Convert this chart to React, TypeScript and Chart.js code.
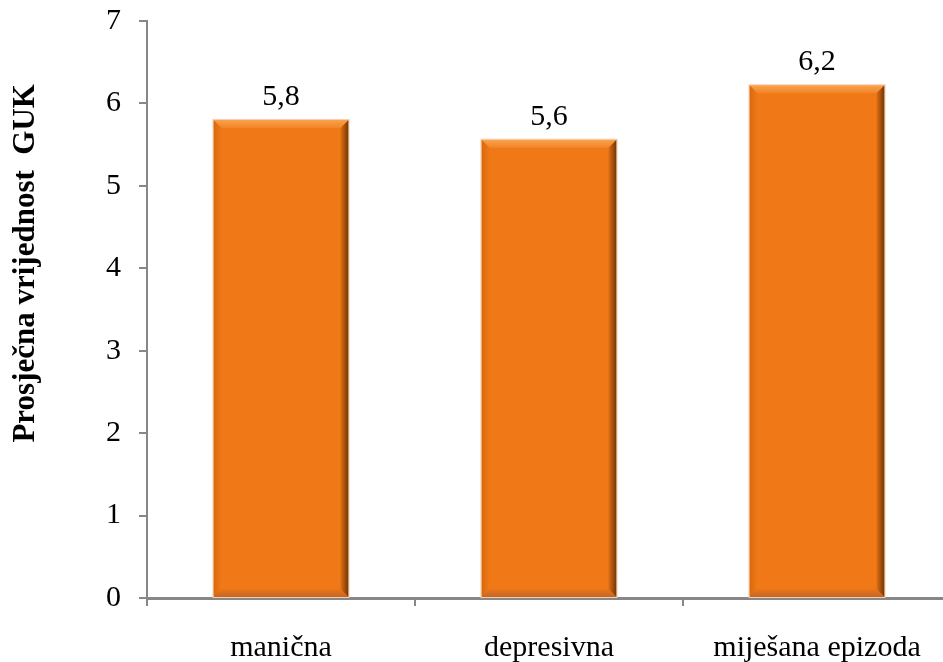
import React, { useEffect, useRef } from "react";
import { Chart, registerables } from "chart.js";

Chart.register(...registerables);

const categories = ["manična", "depresivna", "miješana epizoda"];
const values = [5.8, 5.56, 6.22];
const valueLabels = ["5,8", "5,6", "6,2"];
const yTicks = [0, 1, 2, 3, 4, 5, 6, 7];
const yTitle = "Prosječna vrijednost  GUK";

const FONT = "'Liberation Serif', 'Times New Roman', serif";
const AXIS_GRAY = "#878787";

const bevelPlugin = {
  id: "bevel",
  afterDatasetsDraw(chart: any) {
    const ctx = chart.ctx;
    const meta = chart.getDatasetMeta(0);
    meta.data.forEach((bar: any, i: number) => {
      const { x, y, base, width } = bar.getProps(["x", "y", "base", "width"], true);
      const l = x - width / 2;
      const r = x + width / 2;
      const t = y;
      const b = base;
      const s = 8;
      ctx.save();
      // top
      let g = ctx.createLinearGradient(0, t, 0, t + s);
      g.addColorStop(0, "#F9A24E");
      g.addColorStop(1, "#F28526");
      ctx.fillStyle = g;
      ctx.beginPath();
      ctx.moveTo(l, t); ctx.lineTo(r, t); ctx.lineTo(r - s, t + s); ctx.lineTo(l + s, t + s); ctx.closePath();
      ctx.fill();
      // left
      g = ctx.createLinearGradient(l, 0, l + s, 0);
      g.addColorStop(0, "#D8690F");
      g.addColorStop(1, "#F07816");
      ctx.fillStyle = g;
      ctx.beginPath();
      ctx.moveTo(l, t); ctx.lineTo(l + s, t + s); ctx.lineTo(l + s, b - s); ctx.lineTo(l, b); ctx.closePath();
      ctx.fill();
      // bottom
      g = ctx.createLinearGradient(0, b - s, 0, b);
      g.addColorStop(0, "#EC7618");
      g.addColorStop(1, "#C2662A");
      ctx.fillStyle = g;
      ctx.beginPath();
      ctx.moveTo(l, b); ctx.lineTo(l + s, b - s); ctx.lineTo(r - s, b - s); ctx.lineTo(r, b); ctx.closePath();
      ctx.fill();
      // right
      g = ctx.createLinearGradient(r - s, 0, r, 0);
      g.addColorStop(0, "#E06E12");
      g.addColorStop(1, "#6E3608");
      ctx.fillStyle = g;
      ctx.beginPath();
      ctx.moveTo(r, t); ctx.lineTo(r, b); ctx.lineTo(r - s, b - s); ctx.lineTo(r - s, t + s); ctx.closePath();
      ctx.fill();
      // outline
      ctx.strokeStyle = "#F6CDAA";
      ctx.lineWidth = 1;
      ctx.strokeRect(l - 0.5, t - 0.5, width + 1, b - t + 1);
      // value label
      ctx.fillStyle = "#000";
      ctx.font = `30px ${FONT}`;
      ctx.textAlign = "center";
      ctx.textBaseline = "alphabetic";
      ctx.fillText(valueLabels[i], x, t - 15);
      ctx.restore();
    });
  },
  afterDraw(chart: any) {
    const ctx = chart.ctx;
    const area = chart.chartArea;
    ctx.save();
    ctx.translate(34, area.top + (area.bottom - area.top) * 0.42);
    ctx.rotate(-Math.PI / 2);
    ctx.font = `bold 31px ${FONT}`;
    ctx.fillStyle = "#000";
    ctx.textAlign = "center";
    ctx.textBaseline = "alphabetic";
    ctx.fillText(yTitle, 0, 0);
    ctx.restore();
  },
};

export default function App() {
  const ref = useRef<HTMLCanvasElement | null>(null);
  useEffect(() => {
    if (!ref.current) return;
    const chart = new Chart(ref.current, {
      type: "bar",
      data: {
        labels: categories,
        datasets: [
          {
            data: values,
            backgroundColor: "#F07816",
            borderWidth: 0,
            categoryPercentage: 0.504,
            barPercentage: 1,
          },
        ],
      },
      options: {
        responsive: false,
        animation: false,
        devicePixelRatio: 1,
        layout: { padding: { left: 0, right: 9, top: 21, bottom: 0 } },
        plugins: {
          legend: { display: false },
          tooltip: { enabled: false },
          title: { display: false },
        },
        scales: {
          x: {
            offset: true,
            grid: {
              offset: true,
              drawOnChartArea: false,
              drawTicks: true,
              tickLength: 8,
              color: AXIS_GRAY,
              lineWidth: 2,
            },
            border: { display: true, color: AXIS_GRAY, width: 3 },
            ticks: {
              color: "#000",
              font: { family: FONT, size: 30 },
              padding: 24,
              maxRotation: 0,
              autoSkip: false,
            },
            afterFit(scale: any) {
              scale.height = 64;
              scale.paddingLeft = 0;
              scale.paddingRight = 0;
            },
          },
          y: {
            min: 0,
            max: 7,
            afterBuildTicks(scale: any) {
              scale.ticks = yTicks.map((v) => ({ value: v }));
            },
            grid: {
              drawOnChartArea: false,
              drawTicks: true,
              tickLength: 8,
              color: AXIS_GRAY,
              lineWidth: 2,
            },
            border: { display: true, color: AXIS_GRAY, width: 2 },
            ticks: {
              color: "#000",
              font: { family: FONT, size: 30 },
              padding: 18,
            },
            afterFit(scale: any) {
              scale.width = 147;
              scale.paddingTop = 0;
              scale.paddingBottom = 0;
            },
          },
        },
      },
      plugins: [bevelPlugin],
    });
    return () => chart.destroy();
  }, []);
  return (
    <div
      style={{
        position: "fixed",
        left: 0,
        top: 0,
        width: 943,
        height: 662,
        overflow: "hidden",
        background: "#fff",
      }}
    >
      <canvas ref={ref} width={960} height={662} style={{ display: "block" }} />
    </div>
  );
}
